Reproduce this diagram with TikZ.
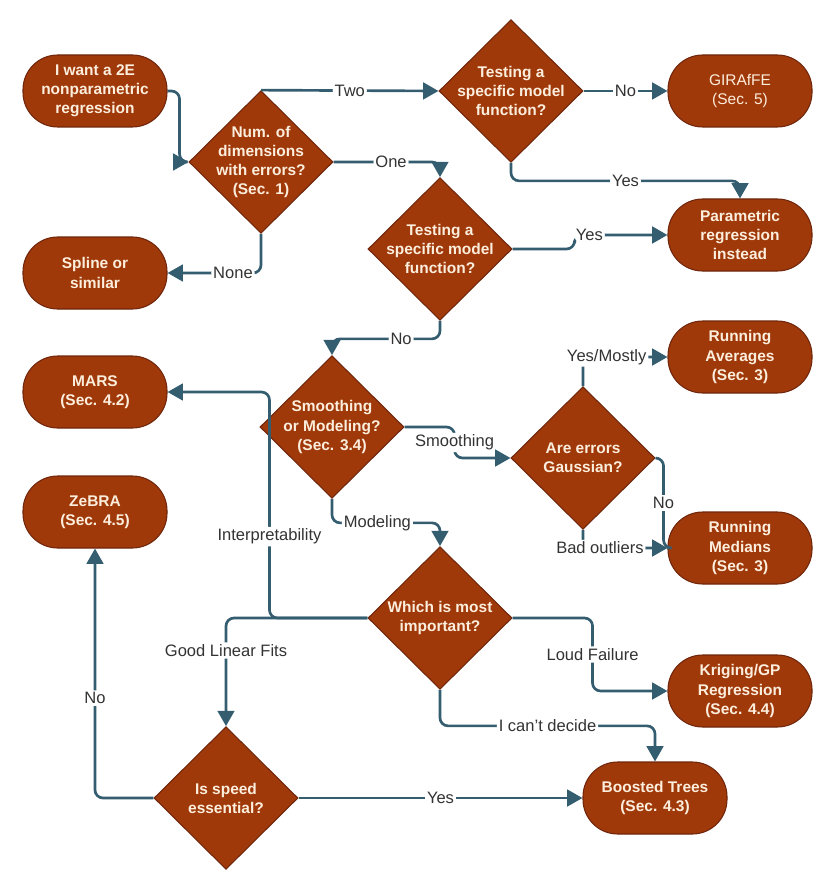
\documentclass[tikz,border=0pt]{standalone}
\usepackage{fontspec}
\setmainfont{Liberation Sans}
\usepackage{xcolor}
\usepackage{tikz}
\usetikzlibrary{arrows.meta,shapes.geometric}
\definecolor{rust}{RGB}{160,57,10}
\definecolor{rustdark}{RGB}{112,38,12}
\definecolor{cream}{RGB}{252,238,220}
\definecolor{flowline}{RGB}{52,94,112}

\begin{document}
\begin{tikzpicture}[x=0.75pt,y=-0.75pt,
  font=\fontsize{12.4}{15}\selectfont,
  term/.style={draw=rustdark,fill=rust,text=cream,font=\fontsize{11.6}{14.3}\selectfont\bfseries,
    rounded corners=26pt,minimum width=108pt,minimum height=54pt,align=center,line width=0.8pt},
  dec/.style={diamond,draw=rustdark,fill=rust,text=cream,font=\fontsize{11.6}{14.3}\selectfont\bfseries,
    align=center,minimum width=108pt,minimum height=107pt,inner sep=-8pt,line width=0.8pt},
  lbl/.style={fill=white,text=black!80,inner sep=1.5pt},
  link/.style={draw=flowline,line width=2pt,rounded corners=6pt},
  arr/.style={link,-{Triangle[length=11.5pt,width=12.5pt]}}]
\useasboundingbox (0,0) rectangle (830,884);
% end points
\node[term] (start) at (95,91) {I want a 2E\\nonparametric\\regression};
\node[term] (spline) at (95,273) {Spline or\\similar};
\node[term,font=\fontsize{11.6}{14.3}\selectfont] (giraffe) at (740,91) {GIRAfFE\\(Sec. 5)};
\node[term] (param) at (740,235) {Parametric\\regression\\instead};
\node[term] (mars) at (95,392) {MARS\\(Sec. 4.2)};
\node[term] (zebra) at (95,512) {ZeBRA\\(Sec. 4.5)};
\node[term] (runavg) at (740,357) {Running\\Averages\\(Sec. 3)};
\node[term] (runmed) at (740,548) {Running\\Medians\\(Sec. 3)};
\node[term] (krig) at (740,691) {Kriging/GP\\Regression\\(Sec. 4.4)};
\node[term] (boost) at (655,798) {Boosted Trees\\(Sec. 4.3)};
% questions
\node[dec] (dims) at (261,162) {Num. of\\dimensions\\with errors?\\(Sec. 1)};
\node[dec] (testtwo) at (511,91) {Testing a\\specific model\\function?};
\node[dec] (testone) at (440,249) {Testing a\\specific model\\function?};
\node[dec] (smooth) at (332,427) {Smoothing\\or Modeling?\\(Sec. 3.4)};
\node[dec] (gauss) at (583,458) {Are errors\\Gaussian?};
\node[dec] (important) at (440,618) {Which is most\\important?};
\node[dec] (speed) at (226,798) {Is speed\\essential?};
% connectors
\draw[arr] (start.east) -- ++(12,0) |- (dims.west);
\draw[arr] (dims.north) -- node[lbl]{Two} (testtwo.west);
\draw[arr] (testtwo.east) -- node[lbl]{No} (giraffe.west);
\draw[arr] (testtwo.south) -- ++(0,18) -| node[lbl,pos=0.25]{Yes} (param.north);
\draw[arr] (dims.east) -| node[lbl,pos=0.27]{One} (testone.north);
\draw[arr] (dims.south) |- node[lbl,pos=0.65]{None} (spline.east);
\draw[arr] (testone.east) -- ++(62,0) |- node[lbl,pos=0.58]{Yes} (param.west);
\draw[arr] (testone.south) -- ++(0,18) -| node[lbl,pos=0.18]{No} (smooth.north);
\draw[arr] (smooth.east) -- ++(50,0) |- node[lbl,pos=0.25]{Smoothing} (gauss.west);
\draw[arr] (gauss.north) |- node[lbl,pos=0.64]{Yes/Mostly} (runavg.west);
\draw[link] (gauss.east) -- ++(8,0) |- node[lbl,pos=0.25]{No} (runmed.west);
\draw[arr] (gauss.south) |- node[lbl,pos=0.6]{Bad outliers} (runmed.west);
\draw[arr] (smooth.south) -- ++(0,24) -| node[lbl,pos=0.21]{Modeling} (important.north);
\draw[arr] (important.west) -- ++(-98,0) |- node[lbl,pos=0.18]{Interpretability} (mars.east);
\draw[arr] (important.west) -| node[lbl,pos=0.65]{Good Linear Fits} (speed.north);
\draw[arr] (important.east) -- ++(80,0) |- node[lbl,pos=0.25]{Loud Failure} (krig.west);
\draw[arr] (important.south) -- ++(0,36) -| node[lbl,pos=0.25]{I can't decide} (boost.north);
\draw[arr] (speed.east) -- node[lbl]{Yes} (boost.west);
\draw[arr] (speed.west) -| node[lbl,pos=0.7]{No} (zebra.south);
\end{tikzpicture}
\end{document}
